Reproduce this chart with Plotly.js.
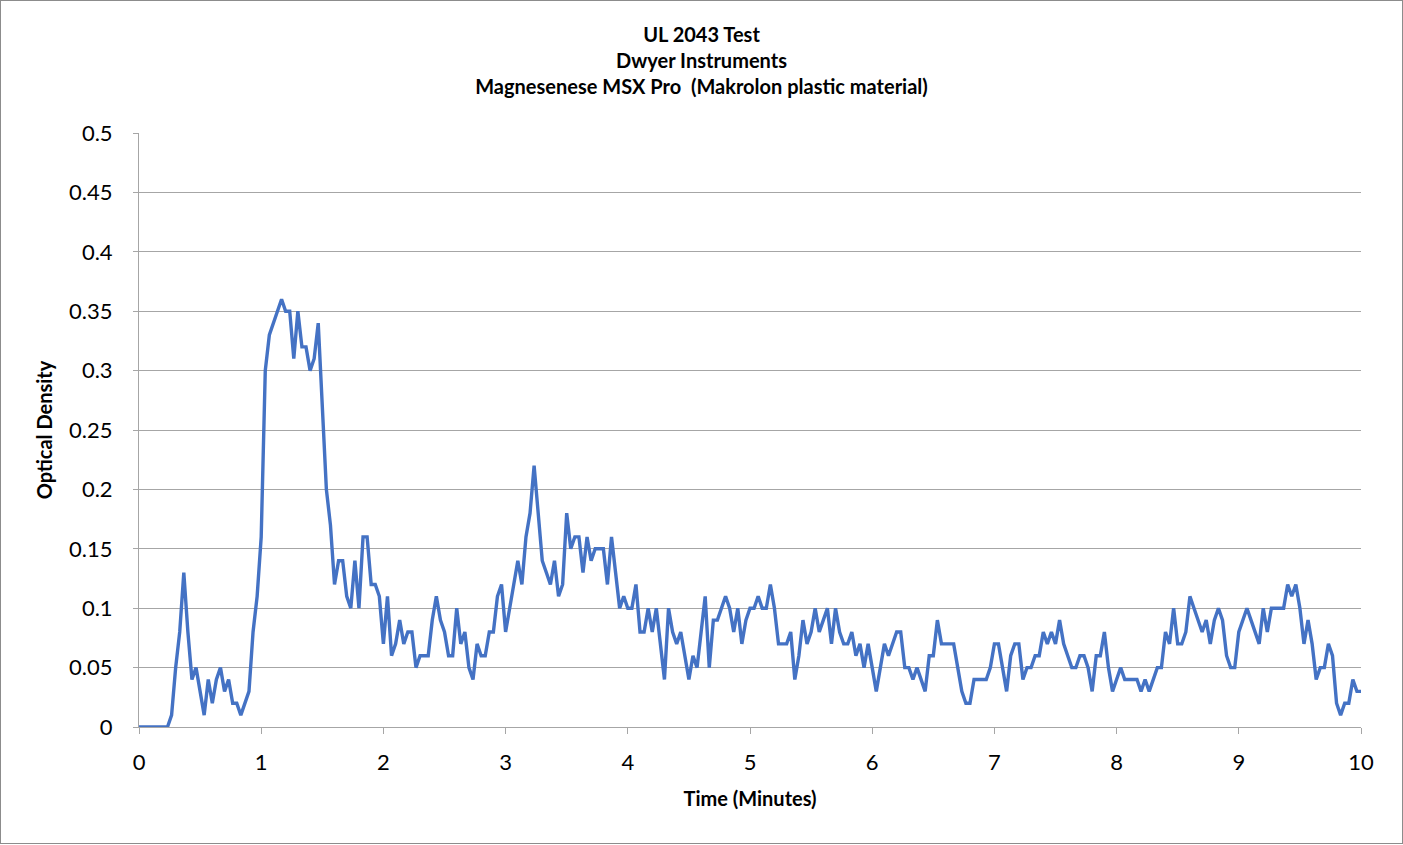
<!DOCTYPE html>
<html>
<head>
<meta charset="utf-8">
<script src="https://cdn.plot.ly/plotly-3.0.1.min.js"></script>
<style>
  html, body { margin: 0; padding: 0; background: #fff; }
  #wrap { position: relative; width: 1403px; height: 845px; }
  #chart { position: absolute; left: 0; top: 0; width: 1403px; height: 845px; }
  #frame { position: absolute; left: 0; top: 0; width: 1401px; height: 842px; border: 1px solid #8c8c8c; pointer-events: none; }
</style>
</head>
<body>
<div id="wrap"><div id="chart"></div><div id="frame"></div></div>
<script>
// Optical density sampled every 2 seconds (1/30 minute) from 0 to 10 minutes
const sampleStartMinutes = 0;
const sampleStepMinutes = 1 / 30;
const opticalDensity = [
  0, 0, 0, 0, 0, 0, 0, 0, 0.01, 0.05,
  0.08, 0.13, 0.08, 0.04, 0.05, 0.03, 0.01, 0.04, 0.02, 0.04,
  0.05, 0.03, 0.04, 0.02, 0.02, 0.01, 0.02, 0.03, 0.08, 0.11,
  0.16, 0.30, 0.33, 0.34, 0.35, 0.36, 0.35, 0.35, 0.31, 0.35,
  0.32, 0.32, 0.30, 0.31, 0.34, 0.27, 0.20, 0.17, 0.12, 0.14,
  0.14, 0.11, 0.10, 0.14, 0.10, 0.16, 0.16, 0.12, 0.12, 0.11,
  0.07, 0.11, 0.06, 0.07, 0.09, 0.07, 0.08, 0.08, 0.05, 0.06,
  0.06, 0.06, 0.09, 0.11, 0.09, 0.08, 0.06, 0.06, 0.10, 0.07,
  0.08, 0.05, 0.04, 0.07, 0.06, 0.06, 0.08, 0.08, 0.11, 0.12,
  0.08, 0.10, 0.12, 0.14, 0.12, 0.16, 0.18, 0.22, 0.18, 0.14,
  0.13, 0.12, 0.14, 0.11, 0.12, 0.18, 0.15, 0.16, 0.16, 0.13,
  0.16, 0.14, 0.15, 0.15, 0.15, 0.12, 0.16, 0.13, 0.10, 0.11,
  0.10, 0.10, 0.12, 0.08, 0.08, 0.10, 0.08, 0.10, 0.07, 0.04,
  0.10, 0.08, 0.07, 0.08, 0.06, 0.04, 0.06, 0.05, 0.08, 0.11,
  0.05, 0.09, 0.09, 0.10, 0.11, 0.10, 0.08, 0.10, 0.07, 0.09,
  0.10, 0.10, 0.11, 0.10, 0.10, 0.12, 0.10, 0.07, 0.07, 0.07,
  0.08, 0.04, 0.06, 0.09, 0.07, 0.08, 0.10, 0.08, 0.09, 0.10,
  0.07, 0.10, 0.08, 0.07, 0.07, 0.08, 0.06, 0.07, 0.05, 0.07,
  0.05, 0.03, 0.05, 0.07, 0.06, 0.07, 0.08, 0.08, 0.05, 0.05,
  0.04, 0.05, 0.04, 0.03, 0.06, 0.06, 0.09, 0.07, 0.07, 0.07,
  0.07, 0.05, 0.03, 0.02, 0.02, 0.04, 0.04, 0.04, 0.04, 0.05,
  0.07, 0.07, 0.05, 0.03, 0.06, 0.07, 0.07, 0.04, 0.05, 0.05,
  0.06, 0.06, 0.08, 0.07, 0.08, 0.07, 0.09, 0.07, 0.06, 0.05,
  0.05, 0.06, 0.06, 0.05, 0.03, 0.06, 0.06, 0.08, 0.05, 0.03,
  0.04, 0.05, 0.04, 0.04, 0.04, 0.04, 0.03, 0.04, 0.03, 0.04,
  0.05, 0.05, 0.08, 0.07, 0.10, 0.07, 0.07, 0.08, 0.11, 0.10,
  0.09, 0.08, 0.09, 0.07, 0.09, 0.10, 0.09, 0.06, 0.05, 0.05,
  0.08, 0.09, 0.10, 0.09, 0.08, 0.07, 0.10, 0.08, 0.10, 0.10,
  0.10, 0.10, 0.12, 0.11, 0.12, 0.10, 0.07, 0.09, 0.07, 0.04,
  0.05, 0.05, 0.07, 0.06, 0.02, 0.01, 0.02, 0.02, 0.04, 0.03,
  0.03
];
const xTickValues = [0, 1, 2, 3, 4, 5, 6, 7, 8, 9, 10];
const xTickLabels = ["0", "1", "2", "3", "4", "5", "6", "7", "8", "9", "10"];
const yTickValues = [0, 0.05, 0.1, 0.15, 0.2, 0.25, 0.3, 0.35, 0.4, 0.45, 0.5];
const yTickLabels = ["0", "0.05", "0.1", "0.15", "0.2", "0.25", "0.3", "0.35", "0.4", "0.45", "0.5"];
const titleLines = ["UL 2043 Test", "Dwyer Instruments", "Magnesenese MSX Pro&nbsp;&nbsp;(Makrolon plastic material)"];

const FONT = 'Lato, "Open Sans", "Liberation Sans", sans-serif';
const GRID = '#a6a6a6';

const trace = {
  type: 'scatter',
  mode: 'lines',
  x0: sampleStartMinutes,
  dx: sampleStepMinutes,
  y: opticalDensity,
  line: { color: '#4472C4', width: 3.4 },
  hoverinfo: 'x+y'
};

const layout = {
  width: 1403,
  height: 845,
  margin: { l: 139, r: 42, t: 133, b: 118, pad: 0 },
  paper_bgcolor: '#ffffff',
  plot_bgcolor: '#ffffff',
  showlegend: false,
  font: { family: FONT, color: '#000000' },
  title: {
    text: titleLines.join('<br>'),
    font: { family: FONT, size: 20, color: '#000000', weight: 'bold' },
    x: 0.5, xref: 'container', xanchor: 'center',
    y: 0.950, yref: 'container', yanchor: 'top'
  },
  xaxis: {
    range: [0, 10],
    tickmode: 'array',
    tickvals: xTickValues,
    ticktext: xTickLabels,
    showgrid: false,
    zeroline: false,
    showline: true,
    linecolor: GRID,
    linewidth: 1,
    ticks: 'outside',
    ticklen: 6,
    tickcolor: GRID,
    ticklabelstandoff: 10,
    tickfont: { family: FONT, size: 22, color: '#000000' },
    title: { text: 'Time (Minutes)', font: { family: FONT, size: 20, color: '#000000', weight: 'bold' }, standoff: 17 },
    fixedrange: true
  },
  yaxis: {
    range: [0, 0.5],
    tickmode: 'array',
    tickvals: yTickValues,
    ticktext: yTickLabels,
    showgrid: true,
    gridcolor: GRID,
    gridwidth: 1,
    zeroline: false,
    showline: true,
    linecolor: GRID,
    linewidth: 1,
    ticks: 'outside',
    ticklen: 5,
    tickcolor: GRID,
    ticklabelstandoff: 16,
    tickfont: { family: FONT, size: 22, color: '#000000' },
    title: { text: 'Optical Density', font: { family: FONT, size: 20, color: '#000000', weight: 'bold' }, standoff: 11 },
    fixedrange: true
  }
};

Plotly.newPlot('chart', [trace], layout, { displayModeBar: false, staticPlot: true });
</script>
</body>
</html>
